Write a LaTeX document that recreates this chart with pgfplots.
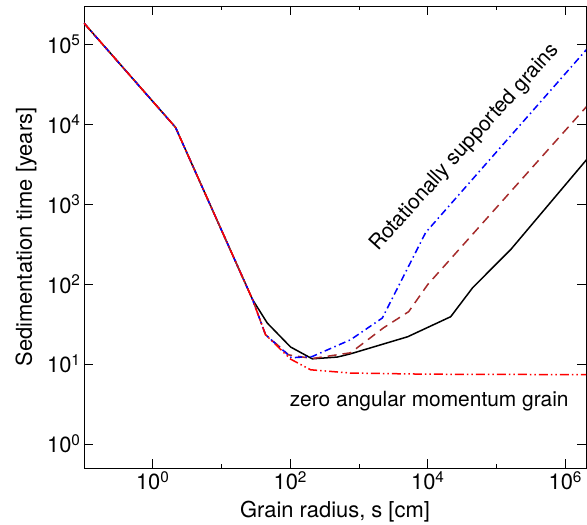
\documentclass[border=0pt]{standalone}
\usepackage{fontspec}
\setmainfont{TeX Gyre Heros}
\usepackage{pgfplots}
\pgfplotsset{compat=1.18}
\definecolor{mybrown}{RGB}{165,42,42}
\newcommand{\tp}[1]{10\textsuperscript{#1}}
\begin{document}
\begin{tikzpicture}
\begin{axis}[
 xmode=log, ymode=log,
 scale only axis, width=502bp, height=462bp,
 xmin=0.1, xmax=2e6, ymin=0.5, ymax=3e5,
 xtick={1,100,1e4,1e6},
 xticklabels={\tp{0},\tp{2},\tp{4},\tp{6}},
 minor xtick={10,1000,1e5},
 ytick={1,10,100,1000,1e4,1e5},
 yticklabels={\tp{0},\tp{1},\tp{2},\tp{3},\tp{4},\tp{5}},
 yminorticks=false,
 major tick length=9bp, minor tick length=4.5bp,
 tick style={black, line width=0.8bp},
 axis line style={line width=0.8bp},
 tick label style={font=\fontsize{22}{26}\selectfont},
 label style={font=\fontsize{22}{26}\selectfont},
 xlabel={Grain radius, s [cm]},
 ylabel={Sedimentation time [years]},
 xlabel style={at={(axis description cs:0.5,-0.1082)}, anchor=base},
 ylabel style={at={(axis description cs:-0.1036,0.5)}, anchor=base},
]
% black solid
\addplot[black, line width=1.5bp] coordinates {
 (0.1,183300) (2.14,9120) (28.3,63.8) (46.3,32.5) (101,16.3) (209,11.6)
 (483,12.2) (754,13.4) (5097,21.9) (21540,39.0) (45040,90.2) (160900,270) (2.056e6,3622)
};
% brown dashed
\addplot[mybrown, line width=1.5bp, dash pattern=on 9bp off 6bp] coordinates {
 (0.1,183300) (2.14,9120) (28.3,63.8) (43.7,23.2) (64.7,17.4) (94.5,13.0) (209,11.7)
 (754,13.8) (2281,28.4) (5272,45.1) (9966,98.3) (2.056e6,16700)
};
% blue dash-dot
\addplot[blue, line width=1.5bp, dash pattern=on 7bp off 3.5bp on 1.5bp off 3.5bp] coordinates {
 (0.1,183300) (2.14,9120) (28.3,63.8) (43.7,23.2) (104,11.96) (209,12.4)
 (754,20.1) (2184,37.6) (9321,441) (2.056e6,86500)
};
% red dash-dot-dot
\addplot[red, line width=1.5bp, dash pattern=on 9bp off 3bp on 1.5bp off 3bp on 1.5bp off 3bp] coordinates {
 (0.1,183300) (2.14,9120) (28.3,63.8) (43.7,23.2) (101,11.5) (197.5,8.46)
 (754,7.7) (10000,7.45) (2.056e6,7.35)
};
\node[rotate=48, anchor=base, font=\fontsize{21}{25}\selectfont] at (axis cs:3.94e4,4560) {Rotationally supported grains};
\node[anchor=base, font=\fontsize{21}{25}\selectfont] at (axis cs:1.048e4,2.91) {zero angular momentum grain};
\end{axis}
\pgfresetboundingbox
\path[use as bounding box] ([shift={(-84bp,-57bp)}]current axis.south west) rectangle ([shift={(503bp,468bp)}]current axis.south west);
\end{tikzpicture}
\end{document}
